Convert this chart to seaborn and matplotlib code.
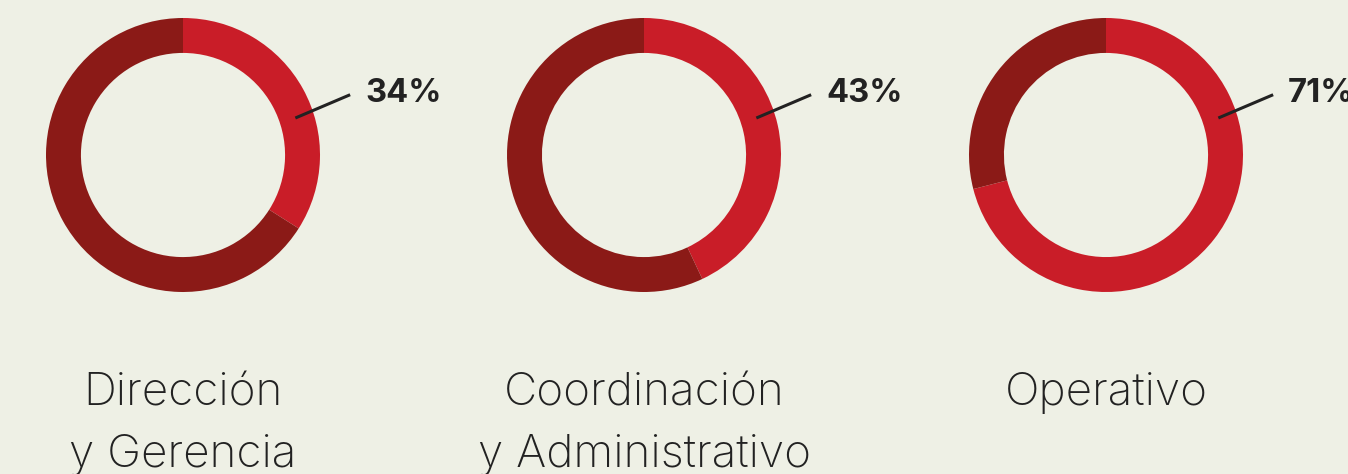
import matplotlib
matplotlib.use("Agg")
import matplotlib.pyplot as plt
import seaborn as sns

# -----------------------------
# DATA
# -----------------------------
categories = ["Dirección\ny Gerencia", "Coordinación\ny Administrativo", "Operativo"]
percentages = [34, 43, 71]
pct_labels = ["34%", "43%", "71%"]

# -----------------------------
# STYLE
# -----------------------------
sns.set_style("white")
plt.rcParams['font.family'] = ['Inter', 'DejaVu Sans']
red, dark_red = "#c91d28", "#8b1a17"
bg = "#eef0e5"

W, H = 1348, 474
fig = plt.figure(figsize=(W / 100, H / 100), dpi=100, facecolor=bg)

centers_x = [183, 644, 1106]
center_y = 155
radius_px = 137

for i, (cat, pct, lab) in enumerate(zip(categories, percentages, pct_labels)):
    cx = centers_x[i]
    ax = fig.add_axes([(cx - radius_px) / W, 1 - (center_y + radius_px) / H,
                       2 * radius_px / W, 2 * radius_px / H])
    ax.pie([pct, 100 - pct], colors=[red, dark_red], startangle=90,
           counterclock=False, radius=1,
           wedgeprops=dict(width=0.255, edgecolor="none"))
    ax.set_xlim(-1, 1)
    ax.set_ylim(-1, 1)
    ax.set_aspect("equal")
    ax.axis("off")
    ax.set_facecolor("none")

    # leader line + label
    ax.plot([0.82, 1.22], [0.27, 0.44], color="#222222", lw=2.2,
            solid_capstyle="butt", clip_on=False)
    ax.text(1.33, 0.45, lab, fontsize=23.5, fontweight="bold", color="#222222",
            ha="left", va="center", clip_on=False)

    # category label
    lines = cat.split("\n")
    for j, line in enumerate(lines):
        fig.text(cx / W, 1 - (405 + 62 * j) / H, line, fontsize=33,
                 fontweight="light", color="#222222", ha="center", va="baseline")

plt.savefig("out.png", dpi=100, facecolor=bg)
plt.close()
